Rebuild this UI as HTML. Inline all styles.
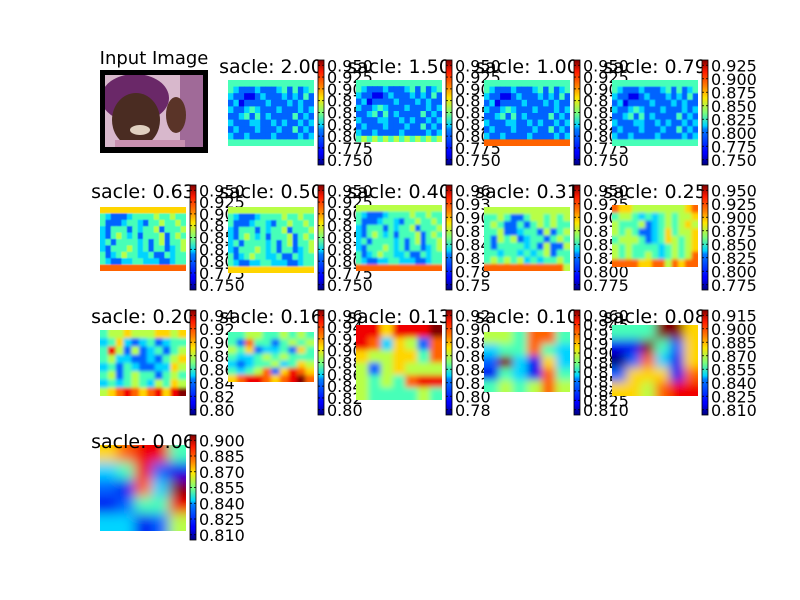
<!DOCTYPE html>
<html><head><meta charset="utf-8"><style>
html,body{margin:0;padding:0;background:#fff}
svg{display:block}
text{font-family:"DejaVu Sans","Liberation Sans",sans-serif}
</style></head>
<body>
<svg id="fig" width="800" height="600" viewBox="0 0 800 600" xmlns="http://www.w3.org/2000/svg">
<defs>
<linearGradient id="jet" x1="0" y1="1" x2="0" y2="0">
<stop offset="0" stop-color="#00007f"/><stop offset="0.11" stop-color="#0000ff"/>
<stop offset="0.125" stop-color="#0000ff"/><stop offset="0.34" stop-color="#0080ff"/>
<stop offset="0.375" stop-color="#00d4ff"/><stop offset="0.5" stop-color="#7dff7a"/>
<stop offset="0.64" stop-color="#ffe600"/><stop offset="0.75" stop-color="#ff8000"/>
<stop offset="0.89" stop-color="#ff1a00"/><stop offset="1" stop-color="#7f0000"/>
</linearGradient>
<clipPath id="photoclip"><rect x="105" y="75" width="98" height="72"/></clipPath>
</defs>
<rect width="800" height="600" fill="#fff"/>
<g>
<text x="154" y="64" font-size="18" text-anchor="middle">Input Image</text>
<rect x="100" y="70" width="108" height="83" fill="#000"/>
<g clip-path="url(#photoclip)">
<rect x="105" y="75" width="98" height="72" fill="#d8b8cc"/>
<rect x="180" y="75" width="23" height="72" fill="#a06a98"/>
<ellipse cx="135" cy="98" rx="34" ry="24" fill="#6a2868"/>
<ellipse cx="136" cy="120" rx="24" ry="27" fill="#4a2c22"/>
<ellipse cx="140" cy="130" rx="10" ry="5" fill="#e0d0c0"/>
<ellipse cx="176" cy="115" rx="10" ry="18" fill="#5a3428"/>
<rect x="115" y="140" width="70" height="8" fill="#c890b0"/>
</g>
</g>
<g id="panels"></g>
</svg>
<script>
// heatmap values, digit 0-9 = colormap level
const titles = ["sacle: 2.00","sacle: 1.50","sacle: 1.00","sacle: 0.79","sacle: 0.63","sacle: 0.50","sacle: 0.40","sacle: 0.31","sacle: 0.25","sacle: 0.20","sacle: 0.16","sacle: 0.13","sacle: 0.10","sacle: 0.08","sacle: 0.06"];
const tickLabels = [
["0.950","0.925","0.900","0.875","0.850","0.825","0.800","0.775","0.750"],
["0.950","0.925","0.900","0.875","0.850","0.825","0.800","0.775","0.750"],
["0.950","0.925","0.900","0.875","0.850","0.825","0.800","0.775","0.750"],
["0.925","0.900","0.875","0.850","0.825","0.800","0.775","0.750"],
["0.950","0.925","0.900","0.875","0.850","0.825","0.800","0.775","0.750"],
["0.950","0.925","0.900","0.875","0.850","0.825","0.800","0.775","0.750"],
["0.96","0.93","0.90","0.87","0.84","0.81","0.78","0.75"],
["0.950","0.925","0.900","0.875","0.850","0.825","0.800","0.775"],
["0.950","0.925","0.900","0.875","0.850","0.825","0.800","0.775"],
["0.94","0.92","0.90","0.88","0.86","0.84","0.82","0.80"],
["0.96","0.94","0.92","0.90","0.88","0.86","0.84","0.82","0.80"],
["0.92","0.90","0.88","0.86","0.84","0.82","0.80","0.78"],
["0.960","0.945","0.930","0.915","0.900","0.885","0.870","0.855","0.840","0.825","0.810"],
["0.915","0.900","0.885","0.870","0.855","0.840","0.825","0.810"],
["0.900","0.885","0.870","0.855","0.840","0.825","0.810"]];
const grids = [
["4444444444444444","4322232223424234","3221123222323242","2312222322232322","3223432223222323","2234242322224232","3222332232322323","2322232223224232","3223222232222323","4444444444444444"],
["4444444444444444","4322232223424234","3221123222323242","2312222322232322","3223432223222323","2234242322224232","3222332232322323","2322232223224232","3223222232222323","4545454545454545"],
["4444444444444444","4322232223424234","3221123222323242","2312222322232322","3223432223222323","2234242322224232","3222332232322323","2322232223224232","3223222232222323","7777777777777777"],
["4444444444444444","4322232223424234","3221123222323242","2312222322232322","3223432223222323","2234242322224232","3222332232322323","2322232223224232","3223222232222323","4444444444444444"],
["6666666666666666","4322234444544544","4222344324454454","3244424344524445","3245434244452454","3424444342452445","3244454342442345","4234544334224344","4322334433322344","7777777777777777"],
["5555555555555555","4322234444544544","4222344324454454","3244424344524445","3245434244452454","3424444342452445","3244454342442345","4234544334224344","4322334433322344","6666666666666666"],
["5555555555555555","4322234444544544","4222344324454454","3244424344524445","3245434244452454","3424444342452445","3244454342442345","4234544334224344","4322334433322344","7777777777777777"],
["5555555555555","4454224554545","4542242454544","4452234425245","4254523442454","4244443425225","4434434345244","4545453434454","7777777777775"],
["7665555555567","4554343454556","5444523454565","5454223464556","4555423465456","5454444345456","5454454345457","7777667757677"],
["45565556656","34632342344","48525234245","45332232456","34243223365","45245442454","34345435465","56787678689"],
["4455445454","4274424545","5462334264","4334545444","3234453465","4345726876","6788767897"],
["8868889","8736527","6556647","5256555","5454788","5444454"],
["554774","344743","293163","143174","454575"],
["444996","119426","027316","266617","665788"],
["67884","34821","21739","12448","33125"]];
const boxes=[ // image rects x,y,w,h and colorbar top per panel
[228,80,86,66,60],[356,80,86,62,60],[484,80,86,66,60],[612,80,86,66,60],
[100,207,86,64,185],[228,207,86,66,185],[356,205,86,66,185],[484,207,86,64,185],[612,205,86,62,185],
[100,330,86,66,310],[228,332,86,50,310],[356,325,86,75,310],[484,332,86,60,310],[612,325,86,71,310],
[100,445,86,86,435]];
const blurs=[0.3,0.3,0.3,0.4,0.6,0.8,1,1.2,1.5,1.5,2,3,4,5,6];

function jet(t){const c=v=>Math.round(255*Math.max(0,Math.min(1,v)));
 return `rgb(${c(1.5-Math.abs(4*t-3))},${c(1.5-Math.abs(4*t-2))},${c(1.5-Math.abs(4*t-1))})`;}
const NS="http://www.w3.org/2000/svg";
const root=document.getElementById('panels');
const defs=document.querySelector('defs');
function mk(tag,attrs,parent){const e=document.createElementNS(NS,tag);for(const k in attrs)e.setAttribute(k,attrs[k]);parent.appendChild(e);return e;}
grids.forEach((g,i)=>{
 const [x,y,w,h,cbTop]=boxes[i];
 const grp=mk('g',{},root);
 
 
 const cp=mk('clipPath',{id:'cp'+i},defs);mk('rect',{x,y,width:w,height:h},cp);
 let filt=null;
 if(blurs[i]>0){filt=mk('filter',{id:'f'+i,x:'-20%',y:'-20%',width:'140%',height:'140%'},defs);mk('feGaussianBlur',{stdDeviation:blurs[i]*w/86},filt);}
 const outer=mk('g',{'clip-path':`url(#cp${i})`},grp);
 const inner=mk('g',filt?{filter:`url(#f${i})`}:{},outer);
 const rows=g.length, cols=g[0].length, cw=w/cols, ch=h/rows, pad=20;
 g.forEach((row,r)=>{[...row].forEach((d,c)=>{
  let cx=x+c*cw, cy=y+r*ch, ww=cw+0.5, hh=ch+0.5;
  if(c===0){cx-=pad;ww+=pad;} if(c===cols-1){ww+=pad;}
  if(r===0){cy-=pad;hh+=pad;} if(r===rows-1){hh+=pad;}
  const cell=mk('rect',{x:cx,y:cy,width:ww,height:hh,fill:jet(+d/9)},inner);
  
  
 });});
 const t=mk('text',{x:x+w/2,y:cbTop+13,'font-size':19,'text-anchor':'middle'},grp);
 t.textContent=titles[i];
 
 
 const cbx=x+w+4, cbH=105;
 const cb=mk('rect',{x:cbx,y:cbTop,width:6,height:cbH,fill:'url(#jet)',stroke:'#000','stroke-width':0.8},grp);
 
 
 const labs=tickLabels[i], n=labs.length;
 labs.forEach((lab,k)=>{
  const ty=cbTop+cbH*(0.05+0.9*k/(n-1));
  mk('line',{x1:cbx,x2:cbx+2,y1:ty,y2:ty,stroke:'#000','stroke-width':0.8},grp);
  mk('line',{x1:cbx+4,x2:cbx+6,y1:ty,y2:ty,stroke:'#000','stroke-width':0.8},grp);
  const tl=mk('text',{x:cbx+9,y:ty+6,'font-size':16},grp);
  tl.textContent=lab;
  
  
 });
});
</script>
</body></html>
